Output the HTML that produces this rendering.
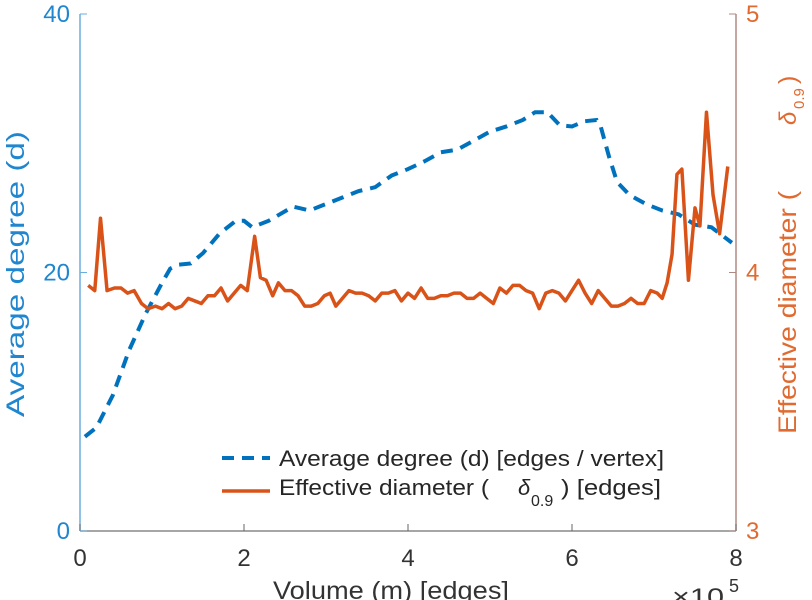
<!DOCTYPE html>
<html><head><meta charset="utf-8"><style>
body{margin:0;background:#fff}
svg{display:block;font-family:"Liberation Sans",sans-serif}
</style></head><body>
<svg width="812" height="600">
<g id="g"></g>
</svg>
<script>
const degX=[0.06,0.2,0.4,0.6,0.8,1.0,1.1,1.2,1.35,1.5,1.7,1.9,2.0,2.1,2.3,2.6,2.8,3.0,3.2,3.4,3.6,3.8,4.0,4.2,4.4,4.6,4.8,5.0,5.2,5.4,5.55,5.7,5.85,6.0,6.15,6.3,6.35,6.45,6.55,6.7,6.9,7.1,7.3,7.5,7.7,7.95];
const degY=[7.3,8.0,10.5,14,16.8,19.2,20.3,20.6,20.7,21.5,23,24,24,23.5,24,25.1,24.8,25.3,25.8,26.3,26.6,27.5,28.0,28.6,29.3,29.5,30.2,30.9,31.3,31.8,32.4,32.4,31.4,31.3,31.7,31.8,31.3,29,27,26,25.3,24.8,24.5,23.7,23.5,22.3];
const diaX=[0.1,0.18,0.25,0.33,0.42,0.5,0.58,0.66,0.75,0.83,0.92,1.0,1.08,1.16,1.24,1.32,1.4,1.48,1.56,1.64,1.72,1.8,1.88,1.96,2.04,2.13,2.2,2.27,2.35,2.42,2.5,2.58,2.66,2.74,2.82,2.9,2.98,3.05,3.12,3.2,3.28,3.36,3.44,3.52,3.6,3.68,3.76,3.84,3.92,4.0,4.08,4.16,4.24,4.32,4.4,4.48,4.56,4.64,4.72,4.8,4.88,4.96,5.04,5.12,5.2,5.28,5.36,5.44,5.52,5.6,5.68,5.76,5.84,5.92,6.0,6.08,6.16,6.24,6.32,6.4,6.48,6.56,6.64,6.72,6.8,6.88,6.96,7.04,7.1,7.16,7.22,7.28,7.34,7.42,7.5,7.56,7.64,7.72,7.8,7.9];
const diaY=[3.95,3.93,4.21,3.93,3.94,3.94,3.92,3.93,3.88,3.86,3.87,3.86,3.88,3.86,3.87,3.9,3.89,3.88,3.91,3.91,3.94,3.89,3.92,3.95,3.93,4.14,3.98,3.97,3.91,3.96,3.93,3.93,3.91,3.87,3.87,3.88,3.91,3.92,3.87,3.9,3.93,3.92,3.92,3.91,3.89,3.92,3.92,3.93,3.89,3.92,3.9,3.94,3.9,3.9,3.91,3.91,3.92,3.92,3.9,3.9,3.92,3.9,3.88,3.94,3.92,3.95,3.95,3.93,3.92,3.86,3.92,3.93,3.92,3.89,3.93,3.97,3.92,3.88,3.93,3.9,3.87,3.87,3.88,3.9,3.88,3.88,3.93,3.92,3.9,3.96,4.07,4.38,4.40,3.97,4.25,4.18,4.62,4.3,4.15,4.41];
const xTicks=[0,2,4,6,8];
const yLTicks=[0,20,40];
const yRTicks=[3,4,5];
const L=80,R=736,T=14,B=531;
const sx=v=>L+v/8*(R-L);
const syL=v=>B-v/40*(B-T);
const syR=v=>B-(v-3)/2*(B-T);
const g=document.getElementById('g');
const NS='http://www.w3.org/2000/svg';
function mk(t,a,txt){const e=document.createElementNS(NS,t);for(const k in a)e.setAttribute(k,a[k]);if(txt!==undefined)e.textContent=txt;g.appendChild(e);return e;}
let e;
e=mk('line',{x1:L,y1:B,x2:R,y2:B,stroke:'#888','stroke-width':1.5});


e=mk('line',{x1:L,y1:T,x2:L,y2:B,stroke:'#6aaede','stroke-width':1.5});


e=mk('line',{x1:R,y1:T,x2:R,y2:B,stroke:'#b08a80','stroke-width':1.5});


xTicks.forEach(v=>{
 mk('line',{x1:sx(v),y1:B,x2:sx(v),y2:B-7,stroke:'#666'});
 e=mk('text',{x:sx(v),y:566,'text-anchor':'middle','font-size':24,fill:'#333'},v);
 
 
});
yLTicks.forEach(v=>{
 mk('line',{x1:L,y1:syL(v),x2:L+7,y2:syL(v),stroke:'#6aaede'});
 e=mk('text',{x:L-10,y:syL(v)+8,'text-anchor':'end','font-size':24,fill:'#1f86cf'},v);
 
 
});
yRTicks.forEach(v=>{
 mk('line',{x1:R,y1:syR(v),x2:R-7,y2:syR(v),stroke:'#b08a80'});
 e=mk('text',{x:R+10,y:syR(v)+8,'text-anchor':'start','font-size':24,fill:'#e06a30'},v);
 
 
});
e=mk('polyline',{points:degX.map((x,i)=>sx(x)+','+syL(degY[i])).join(' '),fill:'none',stroke:'#0072BD','stroke-width':4,'stroke-dasharray':'12,8'});


e=mk('polyline',{points:diaX.map((x,i)=>sx(x)+','+syR(diaY[i])).join(' '),fill:'none',stroke:'#D95319','stroke-width':3.5,'stroke-linejoin':'round'});


e=mk('line',{x1:222,y1:458,x2:270,y2:458,stroke:'#0072BD','stroke-width':4,'stroke-dasharray':'12,8'});


e=mk('text',{x:279,y:466,'font-size':22,fill:'#262626',textLength:385,lengthAdjust:'spacingAndGlyphs'},'Average degree (d) [edges / vertex]');


e=mk('line',{x1:222,y1:491,x2:270,y2:491,stroke:'#D95319','stroke-width':3.5});


e=mk('text',{x:279,y:495,'font-size':22,fill:'#262626',textLength:210,lengthAdjust:'spacingAndGlyphs'},'Effective diameter (');


mk('text',{x:518,y:495,'font-size':22,fill:'#262626','font-style':'italic'},'δ');
mk('text',{x:531,y:506,'font-size':16,fill:'#262626'},'0.9');
mk('text',{x:561,y:495,'font-size':22,fill:'#262626',textLength:100,lengthAdjust:'spacingAndGlyphs'},') [edges]');
e=mk('text',{x:273,y:599,'font-size':25,fill:'#333',textLength:236,lengthAdjust:'spacingAndGlyphs'},'Volume (m) [edges]');


e=mk('text',{x:672,y:605,'font-size':24,fill:'#333',textLength:52,lengthAdjust:'spacingAndGlyphs'},'×10');


mk('text',{x:729,y:592,'font-size':18,fill:'#333'},'5');
e=mk('text',{x:0,y:0,'font-size':25,fill:'#1f86cf',textLength:286,lengthAdjust:'spacingAndGlyphs',transform:'translate(24,417) rotate(-90)'},'Average degree (d)');


e=mk('text',{x:0,y:0,'font-size':25,fill:'#e06a30',textLength:243,lengthAdjust:'spacingAndGlyphs',transform:'translate(796,434) rotate(-90)'},'Effective diameter (');


e=mk('text',{x:0,y:0,'font-size':24,fill:'#e06a30','font-style':'italic',transform:'translate(796,125) rotate(-90)'},'δ');


e=mk('text',{x:0,y:0,'font-size':15,fill:'#e06a30',transform:'translate(804,109) rotate(-90)'},'0.9');


e=mk('text',{x:0,y:0,'font-size':25,fill:'#e06a30',transform:'translate(796,84) rotate(-90)'},')');


</script>
</body></html>
